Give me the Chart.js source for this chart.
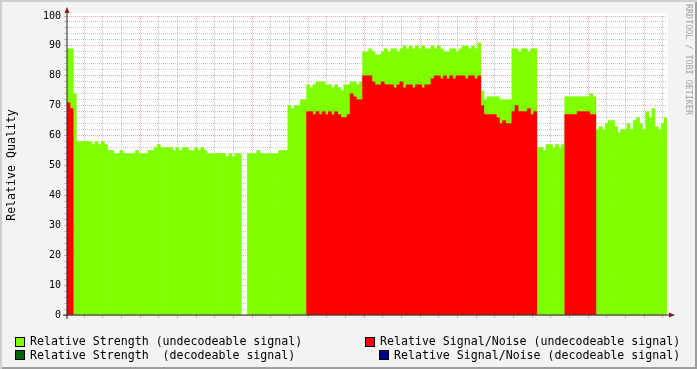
<!DOCTYPE html>
<html>
<head>
<meta charset="utf-8">
<script src="https://cdn.jsdelivr.net/npm/chart.js@4/dist/chart.umd.min.js"></script>
<style>
html,body{margin:0;padding:0;background:#f3f3f3;}
canvas{display:block;}
</style>
</head>
<body>
<canvas id="c" width="697" height="369"></canvas>
<script>
// ---- data (hours relative to Sun 00:00; one sample every 10 minutes) ----
const stepHours = 1 / 6;
const startHour = -3.911;   // left edge of the plot (Sat ~20:05)
const endHour = 28.232;     // right edge of the plot (Mon ~04:14)

const strengthUndecodeable = [
  89,89,74,58,58,58,58,58,57,58,
  57,58,57,55,55,54,54,55,54,54,
  54,54,55,54,54,54,55,55,56,57,
  56,56,56,56,55,56,55,56,56,55,
  55,56,55,56,55,54,54,54,54,54,
  54,53,54,53,54,54,null,null,54,54,
  54,55,54,54,54,54,54,54,55,55,
  55,70,69,70,70,72,72,77,76,77,
  78,78,78,77,77,76,77,76,75,77,
  77,78,78,77,78,88,88,89,88,87,
  87,88,89,88,89,89,88,89,90,89,
  90,89,90,89,90,89,89,90,89,90,
  89,88,88,89,89,88,89,90,90,89,
  90,89,91,75,72,73,73,73,73,72,
  72,72,72,89,89,88,89,89,88,89,
  89,56,56,55,57,57,56,57,56,57,
  73,73,73,73,73,73,73,73,74,73,
  62,63,62,64,65,65,63,61,62,62,
  64,62,65,66,64,62,68,66,69,63,
  62,64,66
];

const snrUndecodeable = [
  71,69,null,null,null,null,null,null,null,null,
  null,null,null,null,null,null,null,null,null,null,
  null,null,null,null,null,null,null,null,null,null,
  null,null,null,null,null,null,null,null,null,null,
  null,null,null,null,null,null,null,null,null,null,
  null,null,null,null,null,null,null,null,null,null,
  null,null,null,null,null,null,null,null,null,null,
  null,null,null,null,null,null,null,68,68,67,
  68,67,68,67,68,67,68,67,66,66,
  67,74,73,72,72,80,80,80,78,77,
  77,78,77,77,77,76,77,78,76,77,
  77,76,77,77,76,77,77,79,80,80,
  79,80,79,80,79,80,80,80,79,80,
  80,79,80,70,67,67,67,67,66,64,
  65,64,64,68,70,68,68,68,69,67,
  68,null,null,null,null,null,null,null,null,null,
  67,67,67,67,68,68,68,68,67,67,
  null,null,null,null,null,null,null,null,null,null,
  null,null,null,null,null,null,null,null,null,null,
  null,null,null
];

const strengthDecodeable = [];
const snrDecodeable = [];

const tickHours = [0, 6, 12, 18, 24];
const tickLabels = ['Sun 00:00', 'Sun 06:00', 'Sun 12:00', 'Sun 18:00', 'Mon 00:00'];

const seriesLabels = [
  'Relative Strength (undecodeable signal)',
  'Relative Strength  (decodeable signal)',
  'Relative Signal/Noise (undecodeable signal)',
  'Relative Signal/Noise (decodeable signal)'
];
const seriesColors = ['#80ff00', '#006400', '#ff0000', '#000090'];

// ---- build chart ----
const FONT = 'DejaVu Sans Mono';
const times = strengthUndecodeable.map((_, i) => startHour + (i + 0.5) * stepHours);
const toPoints = arr => arr.map((v, i) => ({x: times[i], y: v}));

const MINOR = 'rgba(143,143,143,0.5)';
const MAJOR = 'rgba(222,79,79,0.5)';

const rrdPlugin = {
  id: 'rrd',
  beforeDraw(chart) {
    const ctx = chart.ctx, W = chart.width, H = chart.height;
    ctx.save();
    ctx.fillStyle = '#f3f3f3';
    ctx.fillRect(0, 0, W, H);
    // 3d border
    ctx.fillStyle = '#cfcfcf';
    ctx.fillRect(0, 0, W, 2);
    ctx.fillRect(0, 0, 2, H);
    ctx.fillStyle = '#9e9e9e';
    ctx.fillRect(W - 2, 2, 2, H - 2);
    ctx.fillRect(2, H - 2, W - 2, 2);
    // plot canvas
    const a = chart.chartArea;
    ctx.fillStyle = '#ffffff';
    ctx.fillRect(a.left, 13, 601, a.bottom - 13);
    ctx.restore();
  },
  afterDraw(chart) {
    const ctx = chart.ctx, a = chart.chartArea;
    ctx.save();
    // axes
    ctx.strokeStyle = '#1f1f1f';
    ctx.lineWidth = 1;
    ctx.beginPath();
    ctx.moveTo(63, a.bottom); ctx.lineTo(670, a.bottom);
    ctx.moveTo(a.left, a.bottom + 4); ctx.lineTo(a.left, 11);
    ctx.stroke();
    // arrows
    ctx.fillStyle = '#7f1f1f';
    ctx.beginPath();
    ctx.moveTo(a.left, 7); ctx.lineTo(a.left - 2.5, 13); ctx.lineTo(a.left + 2.5, 13); ctx.closePath();
    ctx.fill();
    ctx.beginPath();
    ctx.moveTo(675, a.bottom); ctx.lineTo(669, a.bottom - 2.5); ctx.lineTo(669, a.bottom + 2.5); ctx.closePath();
    ctx.fill();

    // y title
    ctx.fillStyle = '#000';
    ctx.font = '11.6px "' + FONT + '"';
    ctx.save();
    ctx.translate(12, 165);
    ctx.rotate(-Math.PI / 2);
    ctx.textAlign = 'center';
    ctx.textBaseline = 'middle';
    ctx.fillText('Relative Quality', 0, 0);
    ctx.restore();

    // watermark
    ctx.save();
    ctx.fillStyle = '#a0a0a0';
    ctx.font = '8.4px "' + FONT + '"';
    ctx.translate(688, 4);
    ctx.rotate(Math.PI / 2);
    ctx.textAlign = 'left';
    ctx.textBaseline = 'middle';
    ctx.fillText('RRDTOOL / TOBI OETIKER', 0, 0);
    ctx.restore();

    // legend
    const items = [
      {ds: 0, bx: 15, by: 337, ty: 345},
      {ds: 2, bx: 365, by: 337, ty: 345},
      {ds: 1, bx: 15, by: 350, ty: 358.5},
      {ds: 3, bx: 379, by: 350, ty: 358.5}
    ];
    ctx.font = '11.6px "' + FONT + '"';
    ctx.textAlign = 'left';
    ctx.textBaseline = 'alphabetic';
    items.forEach(it => {
      const ds = chart.data.datasets.find(d => d.legendIndex === it.ds);
      ctx.fillStyle = ds.backgroundColor;
      ctx.fillRect(it.bx, it.by, 10, 10);
      ctx.strokeStyle = '#000';
      ctx.lineWidth = 1;
      ctx.strokeRect(it.bx + 0.5, it.by + 0.5, 9, 9);
      ctx.fillStyle = '#000';
      ctx.fillText(ds.label, it.bx + 15, it.ty);
    });
    ctx.restore();
  }
};

const chart = new Chart(document.getElementById('c'), {
  type: 'bar',
  data: {
    datasets: [
      {label: seriesLabels[2], legendIndex: 2, data: toPoints(snrUndecodeable), backgroundColor: seriesColors[2], order: 1},
      {label: seriesLabels[3], legendIndex: 3, data: snrDecodeable, backgroundColor: seriesColors[3], order: 2},
      {label: seriesLabels[1], legendIndex: 1, data: strengthDecodeable, backgroundColor: seriesColors[1], order: 3},
      {label: seriesLabels[0], legendIndex: 0, data: toPoints(strengthUndecodeable), backgroundColor: seriesColors[0], order: 4}
    ]
  },
  options: {
    responsive: false,
    maintainAspectRatio: false,
    devicePixelRatio: 1,
    animation: false,
    events: [],
    layout: {padding: {left: 0, top: 16, right: 30, bottom: 54}},
    datasets: {bar: {grouped: false, barPercentage: 1, categoryPercentage: 1, borderWidth: 0}},
    plugins: {legend: {display: false}, tooltip: {enabled: false}, title: {display: false}},
    scales: {
      x: {
        type: 'linear',
        min: startHour,
        max: endHour,
        offset: false,
        z: 1,
        grid: {
          offset: false,
          color: c => (c.tick && c.tick.value % 6 === 0) ? MAJOR : MINOR,
          tickColor: c => (c.tick && c.tick.value % 6 === 0) ? MAJOR : MINOR,
          tickLength: 3,
          lineWidth: 1
        },
        border: {display: false, dash: [1, 1]},
        ticks: {
          stepSize: 1,
          includeBounds: false,
          autoSkip: false,
          maxRotation: 0,
          minRotation: 0,
          padding: 1,
          color: '#000',
          font: {family: FONT, size: 10},
          callback: v => { const k = tickHours.indexOf(v); return k >= 0 ? tickLabels[k] : ''; }
        },
        afterFit: s => { s.height = 0; }
      },
      y: {
        type: 'linear',
        min: 0,
        max: 100,
        z: 1,
        grid: {
          color: c => (c.tick && c.tick.value % 10 === 0) ? MAJOR : MINOR,
          tickColor: c => (c.tick && c.tick.value % 10 === 0) ? MAJOR : MINOR,
          tickLength: 3,
          lineWidth: 1
        },
        border: {display: false, dash: [1, 1]},
        ticks: {
          stepSize: 2,
          autoSkip: false,
          padding: 3,
          color: '#000',
          font: {family: FONT, size: 10},
          callback: v => (v % 10 === 0 ? String(v) : '')
        },
        afterFit: s => { s.width = 67; }
      }
    }
  },
  plugins: [rrdPlugin]
});
</script>
</body>
</html>
